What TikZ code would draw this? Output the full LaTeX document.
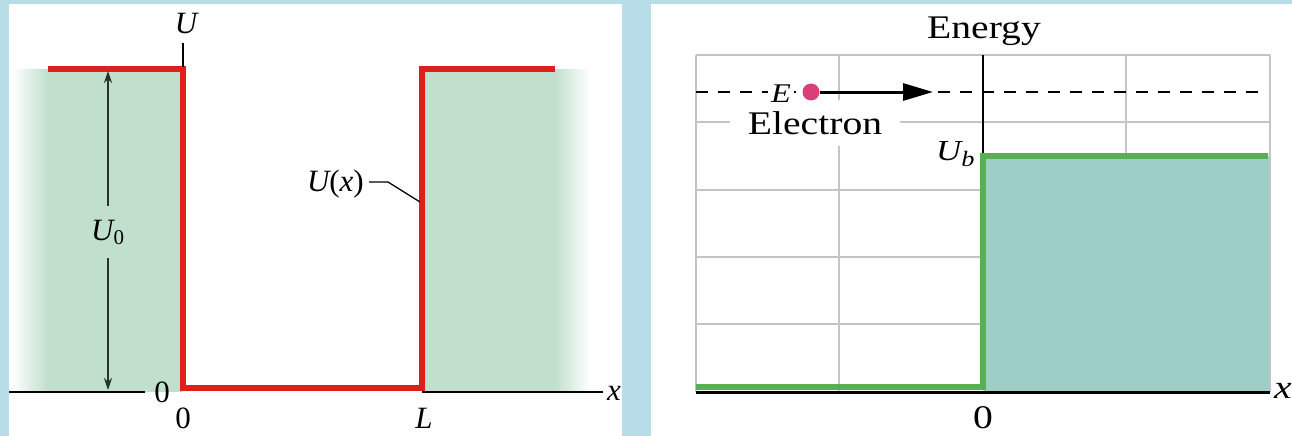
\documentclass[tikz,border=0pt]{standalone}
\usepackage{fontspec}
\setmainfont{Liberation Serif}
\newfontfamily\rfont[FakeStretch=1.2]{Liberation Serif}
\usetikzlibrary{arrows.meta}
\definecolor{bgblue}{HTML}{B6DDE8}
\definecolor{wellgreen}{HTML}{C0DFCC}
\definecolor{potred}{HTML}{DF1F1A}
\definecolor{gridgray}{HTML}{C4C4C8}
\definecolor{barrgreen}{HTML}{5AAE55}
\definecolor{barrfill}{HTML}{9DCFC7}
\definecolor{dotpink}{HTML}{D9407A}
\definecolor{arrowdark}{HTML}{263326}
\begin{document}
\begin{tikzpicture}[x=1pt,y=-1pt,
  lfont/.style={font=\fontsize{31}{32}\selectfont, inner sep=0pt},
  rlab/.style={font=\rfont\fontsize{33}{34}\selectfont, inner sep=0pt},
  redline/.style={draw=potred, line width=5.5pt, line join=miter},
  axisline/.style={draw=black, line width=2pt},
  gridline/.style={draw=gridgray, line width=2.5pt},
  dimarrow/.style={draw=arrowdark, line width=1.4pt, -{Stealth[length=12pt,width=8pt]}},
]
\useasboundingbox (0,0) rectangle (1292,436);
\fill[bgblue] (0,0) rectangle (1292,436);
\fill[white] (9,4) rectangle (622,436);
\fill[white] (651,4) rectangle (1292,436);

% ---------- left panel ----------
\shade[left color=white, right color=wellgreen] (12,69) rectangle (48,392);
\fill[wellgreen] (47,69) rectangle (183,392);
\fill[wellgreen] (422,69) rectangle (556,392);
\shade[left color=wellgreen, right color=white] (555,69) rectangle (590,392);

\coordinate (axL) at (9,392);
\coordinate (axR) at (603,392);
\coordinate (wellL) at (422,392);
\node[lfont, anchor=base] (zeroax) at (162,402) {0};
\node[lfont, anchor=base west] (xl) at (607,400) {\itshape x};
\draw[axisline] (axL) -- (145,392);
\draw[axisline] (wellL) -- (axR);

\coordinate (tl) at (48,69);
\coordinate (c1) at (183,69);
\coordinate (c2) at (183,388);
\coordinate (c3) at (422,388);
\coordinate (c4) at (422,69);
\coordinate (tr) at (555,69);
\draw[redline] (tl) -- (c1) -- (c2) -- (c3) -- (c4) -- (tr);

\node[lfont, anchor=base] (Ulab) at (186,34) {\itshape U};
\coordinate (tickTop) at (183,43);
\draw[axisline] (tickTop) -- (183,67);

\node[lfont, anchor=base west] (U0) at (91,240) {\itshape U\raisebox{-4pt}{\upshape\fontsize{21}{21}\selectfont 0}};
\coordinate (a1s) at (108,206);
\coordinate (a1e) at (108,71);
\coordinate (a2s) at (108,258);
\coordinate (a2e) at (108,390);
\draw[dimarrow] (a1s) -- (a1e);
\draw[dimarrow] (a2s) -- (a2e);

\node[lfont, anchor=base east] (Ux) at (364,191) {\itshape U\upshape(\itshape x\upshape)};
\coordinate (ld1) at (388,182);
\coordinate (ld2) at (420,202);
\draw[line width=1.3pt] (369,182) -- (ld1) -- (ld2);

\node[lfont, anchor=base] (zerob) at (183,428) {0};
\node[lfont, anchor=base] (Llab) at (424,428) {\itshape L};

% ---------- right panel ----------
\foreach \yy in {55,122,190,257,324} \draw[gridline] (696,\yy) -- (1270,\yy);
\foreach \xx in {696,839,1126} \draw[gridline] (\xx,55) -- (\xx,392);
\fill[barrfill] (983,156) rectangle (1269,392);
\draw[gridline] (1270,55) -- (1270,392);

\node[rlab, anchor=base] (energy) at (984,38) {Energy};
\coordinate (vtop) at (983,55);
\coordinate (vb) at (983,156);
\draw[line width=2pt] (vtop) -- (vb);

\coordinate (g0) at (696,387);
\coordinate (g1) at (983,387);
\coordinate (g2) at (983,156);
\coordinate (g3) at (1268,156);
\draw[draw=barrgreen, line width=5.5pt, line join=miter] (g0) -- (g1) -- (g2) -- (g3);
\coordinate (b0) at (696,392);
\coordinate (b1) at (1270,392);
\draw[line width=3pt] (b0) -- (b1);

\coordinate (d0) at (696,92);
\coordinate (d1) at (1266,92);
\draw[line width=1.5pt, dash pattern=on 12pt off 10pt] (d0) -- (d1);

\node[rlab, fill=white, minimum width=170pt, minimum height=46pt] (elec) at (815,123) {Electron};
\node[font=\rfont\fontsize{27}{27}\selectfont\itshape, fill=white, inner xsep=3pt, inner ysep=1pt, anchor=base] (E) at (781,102) {E};
\node[circle, fill=dotpink, minimum size=17pt, inner sep=0pt] (dot) at (811,92) {};
\coordinate (arrEnd) at (933,92);
\draw[line width=3pt, -{Triangle[length=30pt,width=17pt]}] (dot.east) -- (arrEnd);

\node[rlab, anchor=base west, font=\rfont\fontsize{29}{30}\selectfont] (Ub) at (936,160) {\itshape U\raisebox{-6pt}{\fontsize{22}{22}\selectfont b}};
\node[rlab, anchor=base] (zr) at (983,428) {0};
\node[rlab, anchor=base west] (xr) at (1274,398) {\itshape x};
\end{tikzpicture}
\end{document}
